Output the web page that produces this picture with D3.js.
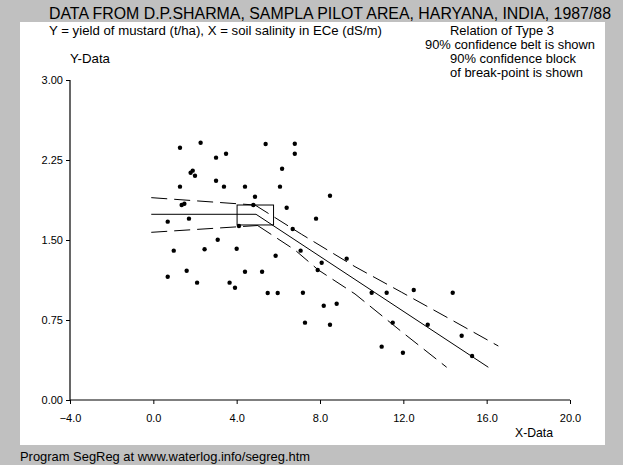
<!DOCTYPE html>
<html>
<head>
<meta charset="utf-8">
<script src="https://cdn.jsdelivr.net/npm/d3@7"></script>
<style>
html,body{margin:0;padding:0;background:#c0c0c0;}
svg{display:block;font-family:"Liberation Sans",Arial,sans-serif;}
</style>
</head>
<body>
<svg id="chart" width="623" height="465"></svg>
<script>
// ---- data ----
const pointsX = [1.28,2.27,5.39,6.79,3.01,3.49,6.79,6.18,1.79,1.89,2.00,3.01,1.28,3.39,4.40,6.08,4.88,1.36,1.49,4.80,6.40,0.69,1.71,4.11,6.69,3.09,0.98,2.46,4.00,5.87,1.60,4.40,5.22,0.69,2.10,3.66,3.92,5.49,5.97,8.48,7.81,7.07,9.28,8.08,7.89,7.18,10.48,11.20,12.50,14.37,8.18,8.80,7.28,8.48,11.49,13.17,14.80,10.96,11.98,15.30];
const pointsY = [2.365,2.412,2.40,2.403,2.272,2.309,2.309,2.168,2.131,2.150,2.103,2.056,2.0,2.0,2.0,2.0,1.906,1.828,1.840,1.828,1.803,1.672,1.700,1.631,1.603,1.503,1.40,1.413,1.418,1.353,1.212,1.203,1.203,1.156,1.10,1.10,1.053,1.003,1.003,1.915,1.70,1.40,1.325,1.287,1.219,1.006,1.006,1.006,1.031,1.006,0.884,0.903,0.725,0.706,0.725,0.706,0.603,0.50,0.443,0.413];

const fitX = [-0.1, 4.93, 16.08];
const fitY = [1.741, 1.741, 0.307];

const upperLeftX = [-0.1, 4.88];
const upperLeftY = [1.897, 1.828];
const lowerLeftX = [-0.1, 5.02];
const lowerLeftY = [1.572, 1.636];
const upperRightX = [4.88, 7.12, 9.68, 11.92, 14.24, 16.56];
const upperRightY = [1.828, 1.553, 1.250, 1.010, 0.759, 0.506];
const lowerRightX = [5.02, 6.80, 7.92, 9.68, 11.92, 14.08];
const lowerRightY = [1.634, 1.406, 1.219, 0.994, 0.640, 0.307];

const blockX = [4.02, 5.77];
const blockY = [1.641, 1.828];

const xTicks = [-4, 0, 4, 8, 12, 16, 20];
const yTicks = [0, 0.75, 1.5, 2.25, 3.0];

const title = "DATA FROM D.P.SHARMA, SAMPLA PILOT AREA, HARYANA, INDIA, 1987/88";
const subtitle = "Y = yield of mustard (t/ha), X = soil salinity in ECe (dS/m)";
const notes = ["Relation of Type 3", "90% confidence belt is shown", "90% confidence block", "of break-point is shown"];
const footer = "Program SegReg at www.waterlog.info/segreg.htm";

// ---- drawing ----
const svg = d3.select("#chart");
svg.append("rect").attr("x",0).attr("y",0).attr("width",623).attr("height",465).attr("fill","#c0c0c0");
svg.append("rect").attr("x",20).attr("y",22).attr("width",585).attr("height",423).attr("fill","#ffffff");

const x = d3.scaleLinear().domain([-4, 20]).range([70, 570]);
const y = d3.scaleLinear().domain([0, 3]).range([400, 80]);

const xAxis = d3.axisBottom(x).tickValues(xTicks).tickSize(4).tickPadding(10).tickFormat(d3.format(".1f"));
const yAxis = d3.axisLeft(y).tickValues(yTicks).tickSize(4).tickPadding(3).tickFormat(d3.format(".2f"));

const gx = svg.append("g").attr("transform","translate(0,400)").call(xAxis);
const gy = svg.append("g").attr("transform","translate(70,0)").call(yAxis);
[gx, gy].forEach(g => {
  g.select(".domain").attr("stroke","#000").attr("stroke-width",1.2);
  g.selectAll(".tick line").attr("stroke","#000");
  g.selectAll(".tick text").attr("fill","#000").style("font-size","11px").style("font-family","'Liberation Sans',Arial,sans-serif");
});
gx.select(".domain").attr("d", `M70,0H570`);
gy.select(".domain").attr("d", `M0,80V400`);

const line = d3.line().x(d => x(d[0])).y(d => y(d[1]));
const zip = (a, b) => a.map((v, i) => [v, b[i]]);

// block
svg.append("rect")
  .attr("x", x(blockX[0])).attr("y", y(blockY[1]))
  .attr("width", x(blockX[1]) - x(blockX[0]))
  .attr("height", y(blockY[0]) - y(blockY[1]))
  .attr("fill","none").attr("stroke","#000").attr("stroke-width",1);

// fitted line
svg.append("path").attr("d", line(zip(fitX, fitY)))
  .attr("fill","none").attr("stroke","#000").attr("stroke-width",1);

// confidence belts
[[upperLeftX, upperLeftY],[lowerLeftX, lowerLeftY],[upperRightX, upperRightY],[lowerRightX, lowerRightY]].forEach(([bx, by]) => {
  svg.append("path").attr("d", line(zip(bx, by)))
    .attr("fill","none").attr("stroke","#000").attr("stroke-width",1)
    .attr("stroke-dasharray","16,7");
});

// points
svg.append("g").selectAll("circle").data(zip(pointsX, pointsY)).join("circle")
  .attr("cx", d => x(d[0])).attr("cy", d => y(d[1])).attr("r", 2.2).attr("fill","#000");

// texts
const txt = (s, tx, ty, size, len) => {
  const t = svg.append("text").text(s)
    .attr("x", tx).attr("y", ty).attr("fill","#000")
    .style("font-size", size + "px");
  if (len) t.attr("textLength", len).attr("lengthAdjust", "spacingAndGlyphs");
  return t;
};

txt(title, 49, 19, 16, 562);
txt(subtitle, 49, 35, 13, 333);
txt(notes[0], 450, 35, 13, 104);
txt(notes[1], 425, 49, 13, 170);
txt(notes[2], 450, 63, 13, 126);
txt(notes[3], 450, 77, 13, 133);
txt("Y-Data", 70, 63, 13, 40);
txt("X-Data", 515, 437, 13, 38);
txt(footer, 20, 461, 13, 290);
</script>
</body>
</html>
